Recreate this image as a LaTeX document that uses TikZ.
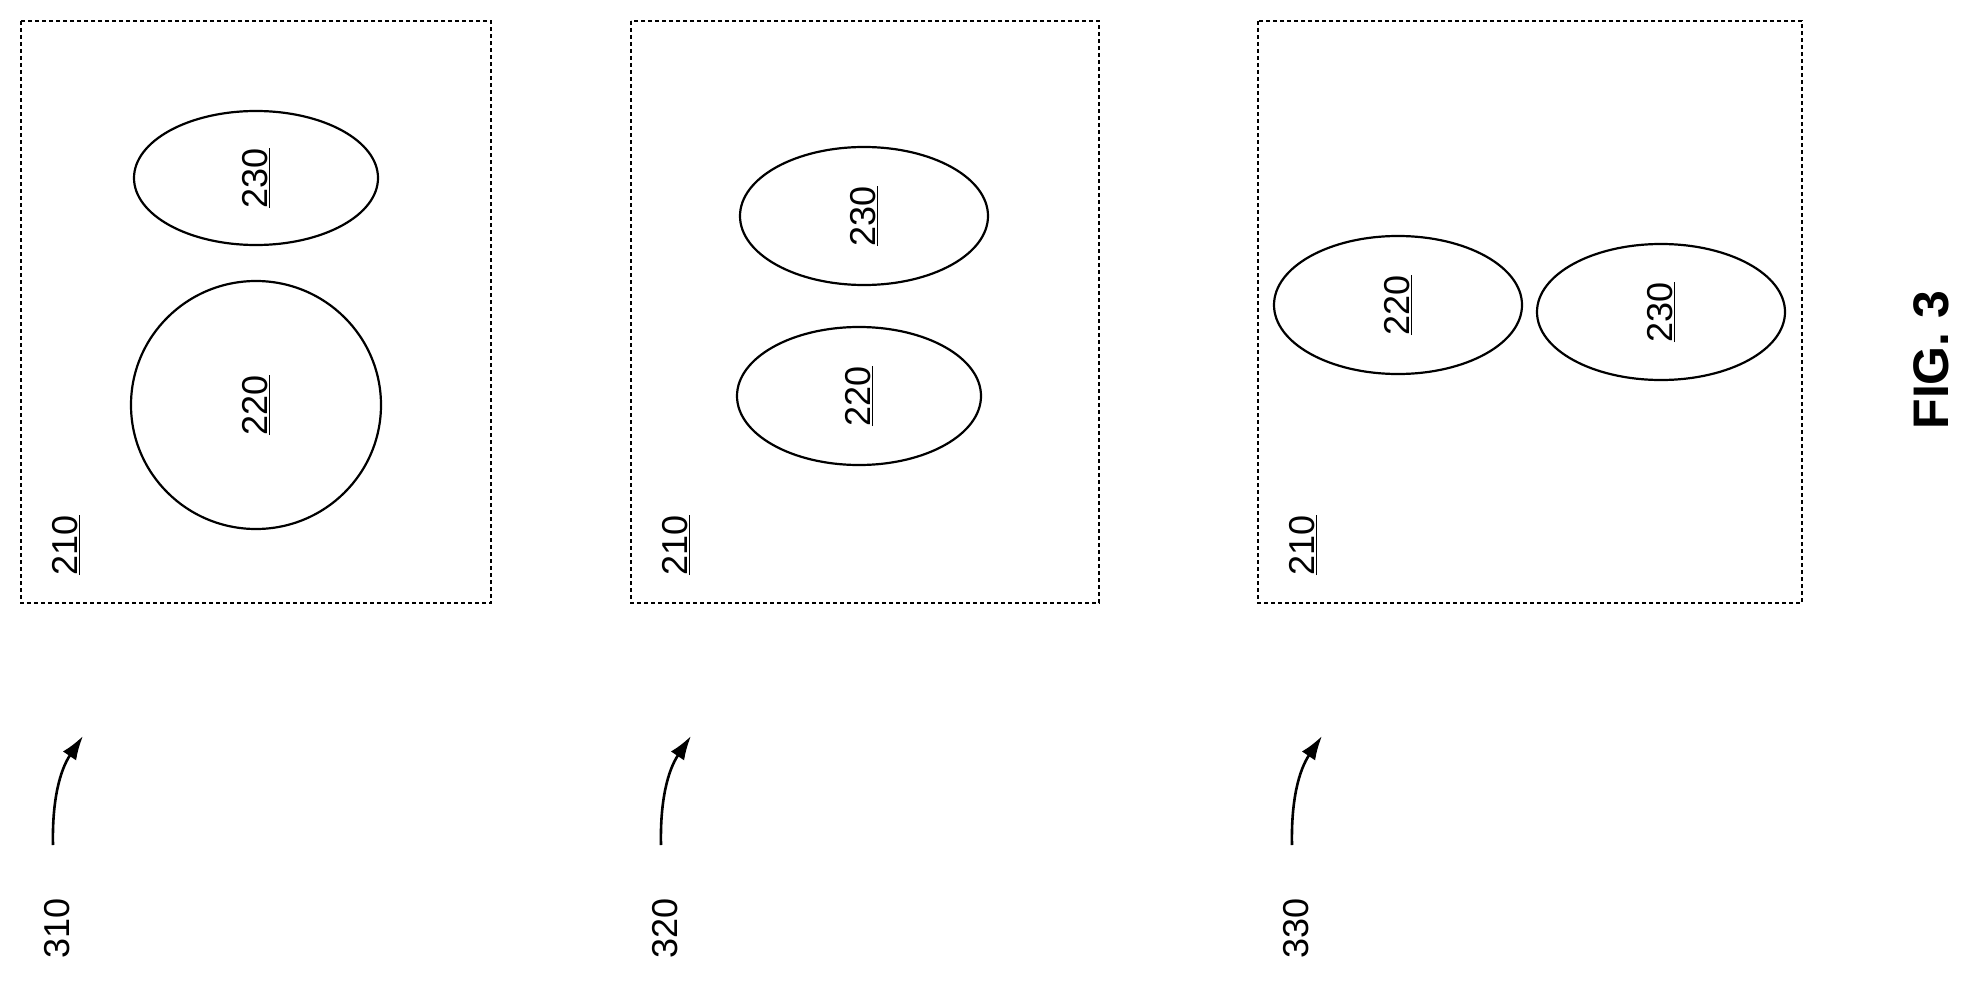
\documentclass[tikz,border=0pt]{standalone}
\usepackage{fontspec}
\setmainfont{Liberation Sans}
\usetikzlibrary{arrows.meta}
\newcommand{\ul}[1]{\underline{#1}}
\tikzset{
  frame/.style={dash pattern=on 4pt off 3pt, line width=2.5pt},
  blob/.style={line width=2.2pt},
  lbl/.style={rotate=90, font=\fontsize{36}{36}\selectfont},
  ptr/.style={-{Latex[length=24pt,width=16pt]}, line width=2.6pt}
}
\begin{document}
\begin{tikzpicture}[x=1pt,y=-1pt]
  \useasboundingbox (0,0) rectangle (1979,982);
  % frames
  \draw[frame] (21,21) rectangle (491,603);
  \draw[frame] (631,21) rectangle (1099,603);
  \draw[frame] (1258,21) rectangle (1802,603);
  \foreach \x in {66,676,1303}
    \node[lbl] at (\x,545) {\ul{210}};
  % 310
  \draw[blob] (256,405) ellipse (125 and 124);
  \node[lbl] (a220) at (256,405) {\ul{220}};
  \draw[blob] (256,178) ellipse (122 and 67);
  \node[lbl] (a230) at (256,178) {\ul{230}};
  % 320
  \draw[blob] (859,396) ellipse (122 and 69);
  \node[lbl] (b220) at (859,396) {\ul{220}};
  \draw[blob] (864,216) ellipse (124 and 69);
  \node[lbl] (b230) at (864,216) {\ul{230}};
  % 330
  \draw[blob] (1398,305) ellipse (124 and 69);
  \node[lbl] (c220) at (1398,305) {\ul{220}};
  \draw[blob] (1661,312) ellipse (124 and 68);
  \node[lbl] (c230) at (1661,312) {\ul{230}};
  % references
  \foreach \x/\n in {0/310,608/320,1239/330} {
    \node[lbl] (r\n) at (\x+57,928) {\n};
    \coordinate (s\n) at (\x+53,845);
    \coordinate (e\n) at (\x+83,736);
    \draw[ptr] (s\n) .. controls (\x+52,800) and (\x+60,770) .. (e\n);
  }
  \node[rotate=90, font=\bfseries\fontsize{50}{50}\selectfont] (fig) at (1931,360) {FIG. 3};
\end{tikzpicture}
\end{document}
